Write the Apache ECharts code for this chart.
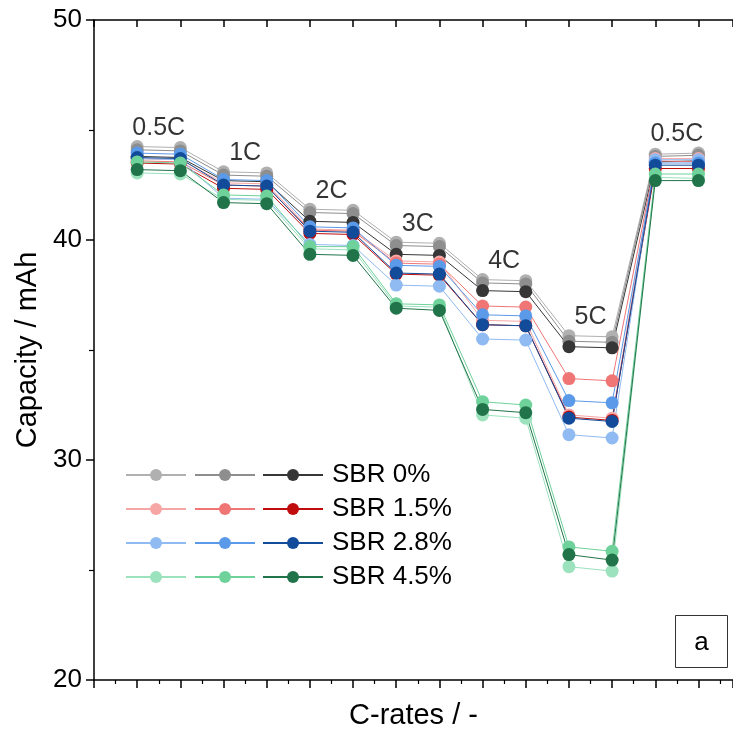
<!DOCTYPE html>
<html>
<head>
<meta charset="utf-8">
<script src="https://cdn.jsdelivr.net/npm/echarts@6/dist/echarts.min.js"></script>
<style>
  html, body { margin: 0; padding: 0; background: #fff; }
  #chart { width: 733px; height: 735px; }
</style>
</head>
<body>
<div id="chart"></div>
<script>
// Step positions along the rate test (two cycles per C-rate)
const cycleX = [1, 2, 3, 4, 5, 6, 7, 8, 9, 10, 11, 12, 13, 14];
const rateLabels = ['0.5C', '1C', '2C', '3C', '4C', '5C', '0.5C'];
const yTicks = [20, 30, 40, 50];

// Discharge capacity (mAh), three cells per SBR content
const sbr0_a  = [44.25, 44.2, 43.1, 43.05, 41.4, 41.35, 39.9, 39.85, 38.2, 38.15, 35.65, 35.6, 43.9, 43.95];
const sbr0_b  = [44.1, 44.05, 42.95, 42.9, 41.25, 41.2, 39.75, 39.7, 38.05, 38.0, 35.4, 35.35, 43.8, 43.85];
const sbr0_c  = [43.8, 43.75, 42.7, 42.65, 40.85, 40.8, 39.35, 39.3, 37.7, 37.65, 35.15, 35.1, 43.55, 43.6];
const sbr15_a = [43.7, 43.65, 42.6, 42.55, 40.5, 40.45, 39.05, 39.0, 36.35, 36.3, 32.05, 31.9, 43.7, 43.7];
const sbr15_b = [43.6, 43.55, 42.5, 42.45, 40.45, 40.4, 38.95, 38.9, 37.0, 36.95, 33.7, 33.6, 43.6, 43.55];
const sbr15_c = [43.5, 43.45, 42.35, 42.3, 40.3, 40.25, 38.45, 38.4, 36.15, 36.1, 31.95, 31.8, 43.25, 43.25];
const sbr28_a = [43.7, 43.65, 41.9, 41.85, 39.8, 39.75, 37.95, 37.9, 35.5, 35.45, 31.15, 31.0, 43.65, 43.65];
const sbr28_b = [43.95, 43.9, 42.75, 42.7, 40.6, 40.55, 38.85, 38.8, 36.6, 36.55, 32.7, 32.6, 43.5, 43.5];
const sbr28_c = [43.75, 43.7, 42.5, 42.45, 40.4, 40.35, 38.5, 38.45, 36.15, 36.1, 31.9, 31.75, 43.4, 43.4];
const sbr45_a = [43.05, 43.0, 41.85, 41.8, 39.6, 39.55, 37.0, 36.95, 32.05, 31.9, 25.15, 24.95, 42.85, 42.8];
const sbr45_b = [43.55, 43.5, 42.05, 42.0, 39.7, 39.7, 37.1, 37.05, 32.65, 32.5, 26.05, 25.85, 43.0, 43.0];
const sbr45_c = [43.2, 43.15, 41.7, 41.65, 39.35, 39.3, 36.9, 36.8, 32.3, 32.15, 25.7, 25.45, 42.7, 42.7];

const groups = [
  { name: 'SBR 0%',   data: [sbr0_a, sbr0_b, sbr0_c],    colors: ['#b0b0b0', '#8e8e8e', '#363636'] },
  { name: 'SBR 1.5%', data: [sbr15_a, sbr15_b, sbr15_c], colors: ['#f7a6a6', '#f07676', '#c00c0c'] },
  { name: 'SBR 2.8%', data: [sbr28_a, sbr28_b, sbr28_c], colors: ['#8fbbf2', '#5b9ae8', '#124b99'] },
  { name: 'SBR 4.5%', data: [sbr45_a, sbr45_b, sbr45_c], colors: ['#9be2bd', '#6fd29b', '#217449'] }
];

const FONT = '"Liberation Sans", Arial, sans-serif';

const series = [];
const legendNames = [[], [], []];
groups.forEach(g => {
  g.data.forEach((vals, k) => {
    const id = g.name + '#' + k;
    legendNames[k].push(id);
    series.push({
      type: 'line',
      name: id,
      data: cycleX.map((x, i) => [x, vals[i]]),
      symbol: 'circle',
      symbolSize: 13,
      color: g.colors[k],
      lineStyle: { width: 1, color: g.colors[k] },
      itemStyle: { color: g.colors[k] },
      emphasis: { disabled: true },
      animation: false,
      z: 2
    });
  });
});

// Rate labels sit above the highest point of each pair of cycles
const allSets = groups.flatMap(g => g.data);
const labelPoints = rateLabels.map((lab, r) => {
  const i0 = 2 * r, i1 = 2 * r + 1;
  const top = Math.max(...allSets.map(s => Math.max(s[i0], s[i1])));
  return { name: lab, value: [(cycleX[i0] + cycleX[i1]) / 2, top] };
});
series.push({
  type: 'scatter',
  name: 'rates',
  data: labelPoints,
  symbolSize: 0,
  silent: true,
  animation: false,
  label: {
    show: true,
    position: 'top',
    distance: 6,
    formatter: p => p.name,
    fontFamily: FONT,
    fontSize: 25,
    color: '#000'
  },
  z: 5
});

// Three legend columns (one per cell); only the last column carries the text
const legendBase = {
  orient: 'vertical',
  top: 462,
  itemWidth: 60,
  itemHeight: 15,
  itemGap: 8,
  padding: 0,
  selectedMode: false
};
const legends = [125, 194, 262].map((left, k) => Object.assign({}, legendBase, {
  left: left,
  data: legendNames[k],
  formatter: k === 2 ? (n => n.split('#')[0]) : (() => ' '),
  textStyle: { fontFamily: FONT, fontSize: 26, color: '#000', padding: [0, 0, 0, 4] }
}));

const chart = echarts.init(document.getElementById('chart'), null, { renderer: 'canvas' });
chart.setOption({
  backgroundColor: '#fff',
  animation: false,
  grid: { left: 94, right: 0, top: 20, bottom: 55, containLabel: false },
  legend: legends,
  xAxis: [
    {
      type: 'value', min: 0, max: 14.8, interval: 1, position: 'bottom',
      name: 'C-rates / -', nameLocation: 'middle', nameGap: 21,
      nameTextStyle: { fontFamily: FONT, fontSize: 29, color: '#000' },
      axisLine: { show: true, onZero: false, lineStyle: { color: '#000', width: 1.5 } },
      axisTick: { show: true, inside: false, length: 8, lineStyle: { color: '#000', width: 1.5 } },
      minorTick: { show: true, splitNumber: 2, length: 4, lineStyle: { color: '#000', width: 1.2 } },
      axisLabel: { show: false },
      splitLine: { show: false }
    },
    {
      type: 'value', min: 0, max: 14.8, interval: 1, position: 'top',
      axisLine: { show: true, onZero: false, lineStyle: { color: '#000', width: 1.5 } },
      axisTick: { show: true, inside: true, length: 7, lineStyle: { color: '#000', width: 1.5 } },
      axisLabel: { show: false },
      splitLine: { show: false }
    }
  ],
  yAxis: {
    type: 'value', min: yTicks[0], max: yTicks[yTicks.length - 1], interval: yTicks[1] - yTicks[0],
    name: 'Capacity / mAh', nameLocation: 'middle', nameGap: 46, nameRotate: 90,
    nameTextStyle: { fontFamily: FONT, fontSize: 29, color: '#000' },
    axisLine: { show: true, onZero: false, lineStyle: { color: '#000', width: 1.5 } },
    axisTick: { show: true, inside: false, length: 8, lineStyle: { color: '#000', width: 1.5 } },
    minorTick: { show: true, splitNumber: 2, length: 5, lineStyle: { color: '#000', width: 1.2 } },
    axisLabel: { fontFamily: FONT, fontSize: 26, color: '#000', margin: 12 },
    splitLine: { show: false }
  },
  graphic: [
    {
      type: 'group', right: 5, bottom: 67,
      children: [
        { type: 'rect', shape: { x: 0, y: 0, width: 52, height: 52 }, style: { fill: '#fff', stroke: '#333', lineWidth: 1 } },
        { type: 'text', x: 26, y: 27, style: { text: 'a', fontFamily: FONT, fontSize: 26, fill: '#000', align: 'center', verticalAlign: 'middle' } }
      ]
    }
  ],
  series: series
});
</script>
</body>
</html>
